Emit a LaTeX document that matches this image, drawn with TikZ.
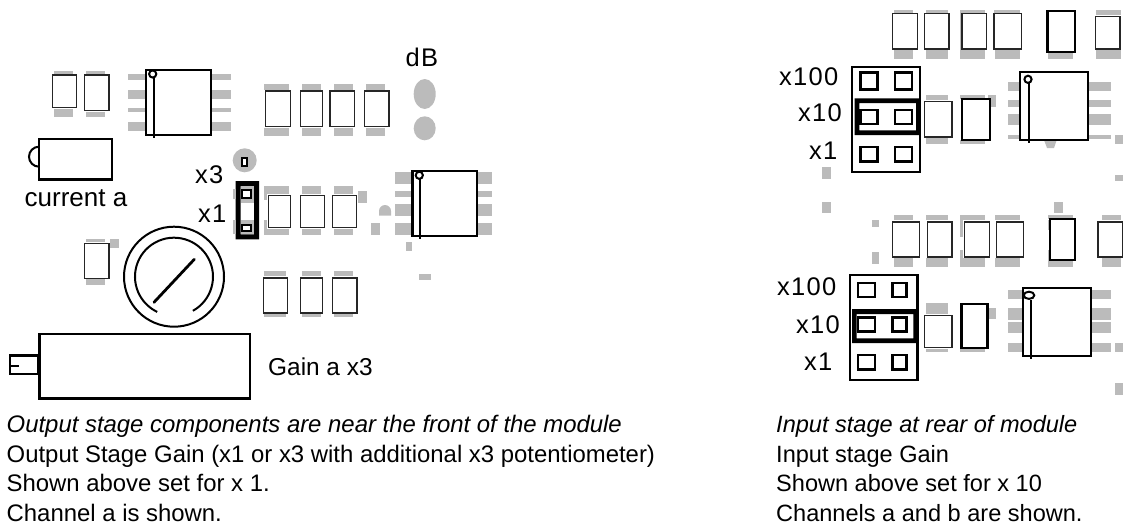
\documentclass[tikz,border=0pt]{standalone}
\usepackage{fontspec}
\setmainfont{Liberation Sans}
\newfontfamily\spacedfont[LetterSpace=5]{Liberation Sans}
\definecolor{padgray}{HTML}{BBBBBB}
\tikzset{
  pad/.style={fill=padgray,draw=none},
  capthin/.style={draw=black!85,fill=white,line width=1.1pt},
  capthick/.style={draw=black,fill=white,line width=2.4pt},
  icbody/.style={draw=black,fill=white,line width=2.4pt},
  pinbox/.style={draw=black,fill=white,line width=2.4pt},
  frame/.style={draw=black,line width=2.4pt},
  heavy/.style={fill=black,draw=none},
  wire/.style={draw=black,line width=2pt},
  label/.style={anchor=base west,inner sep=0pt},
  xlabel/.style={label,font=\spacedfont\fontsize{25.5}{28}\selectfont},
  wlabel/.style={label,font=\fontsize{24.4}{28}\selectfont},
  bodyl/.style={anchor=base west,inner sep=0pt,font=\fontsize{23.9}{28}\selectfont},
  bodyr/.style={anchor=base west,inner sep=0pt,font=\fontsize{23.55}{28}\selectfont},
}
\newcommand\gp[4]{\path[pad] (#1,#2) rectangle (#3,#4);}
\newcommand\cb[4]{\path[capthin] (#1,#2) rectangle (#3,#4);}
\newcommand\ct[4]{\path[capthick] (#1,#2) rectangle (#3,#4);}
\newcommand\pb[4]{\path[pinbox] (#1,#2) rectangle (#3,#4);}
\begin{document}
\begin{tikzpicture}[x=1pt,y=-1pt]
\useasboundingbox (0,0) rectangle (1123,528);
% ---------- left: small caps
\gp{54}{71}{73}{74}\gp{54}{109}{73}{117}\gp{86}{71}{105}{74}\gp{86}{112}{105}{117}
\cb{52.3}{75}{76.7}{107.7}\cb{84.3}{75}{109}{110.3}
% IC1
\gp{128}{74}{231}{80}\gp{128}{90}{231}{98.7}\gp{128}{108}{231}{112}\gp{128}{122}{231}{130.7}
\path[icbody] (145.7,69.7) rectangle (210.7,134.7);
\draw[wire] (153.7,76) -- (153.7,137.7);
\draw[black,fill=white,line width=2pt] (152.7,74) circle (3.6);
% current a
\draw[black,line width=2pt] (39,146.7) arc[start angle=90,end angle=270,radius=10pt];
\path[icbody] (39,139) rectangle (111.7,179.3);
% row of 4 caps
\gp{264}{84}{289}{90}\gp{302}{84}{321}{90}\gp{334}{84}{353}{90}\gp{366}{84}{385}{90}
\gp{264}{128}{289}{136}\gp{302}{128}{321}{136}\gp{334}{128}{353}{136}\gp{366}{128}{385}{136}
\cb{265.7}{91}{290.7}{126.3}\cb{300.7}{91}{322.7}{126.3}\cb{330}{91}{354.7}{126.3}\cb{364.7}{91}{389}{126.3}
% dB pads
\path[pad] (424.7,94) ellipse [x radius=11pt,y radius=15pt];
\path[pad] (424.7,128.3) ellipse [x radius=11pt,y radius=12pt];
% trimmer pad
\path[pad] (244.7,160.3) circle (12);
\path[draw=black,fill=white,line width=2pt] (242,157.7) rectangle (247.3,166);
% jumper
\path[heavy,even odd rule] (235.7,181) rectangle (259,239.3) (240.7,186) rectangle (254,234.3);
\gp{240.7}{186}{254}{203}\gp{240.7}{220}{254}{234.3}
\gp{233}{189}{236}{199}\gp{233}{220}{236}{234}
\pb{242}{190}{250.7}{198}\pb{242}{225}{250.7}{231}
% row of 3 caps
\gp{264}{186}{289}{194}\gp{302}{186}{321}{194}\gp{334}{186}{353}{194}
\gp{264}{229}{289}{235}\gp{302}{229}{321}{235}\gp{334}{229}{353}{235}
\gp{264}{194}{267}{200}\gp{264}{220}{267}{229}
\cb{268.3}{195.3}{290.7}{227.7}\cb{300.7}{195.3}{324.7}{227.7}\cb{332.7}{195.3}{356.7}{227.7}
\gp{358}{191}{367}{202.7}
\path[pad] (379,215.7) -- (379,211) arc[start angle=180,end angle=0,radius=6pt] -- (391,215.7) -- cycle;
\gp{371}{223}{379.7}{234.7}\gp{406}{242}{412}{250.7}\gp{419}{274}{431}{280}
% IC2
\gp{395}{172}{492}{184}\gp{395}{191}{492}{197}\gp{395}{204}{492}{216}\gp{395}{223}{492}{235}
\path[icbody] (412.3,171) rectangle (477,235.7);
\draw[wire] (420.3,177) -- (420.3,239.3);
\draw[black,fill=white,line width=2pt] (419.3,175.3) circle (3.6);
% row of 3 caps lower
\gp{264}{271}{286}{276}\gp{302}{271}{321}{276}\gp{334}{271}{353}{276}
\gp{264}{314}{286}{317}\gp{302}{314}{321}{317}\gp{334}{314}{353}{317}
\cb{263.3}{278}{287.7}{313}\cb{300.7}{278}{322.7}{313}\cb{332.3}{278}{357}{313}
% cap by pot
\gp{86}{239.3}{105}{241.7}\gp{110}{239.3}{119}{248}\gp{86}{279.3}{105}{284.7}
\cb{84.7}{243.3}{109}{278.3}
% pot
\draw[black,line width=2pt] (174,276.7) circle (50);
\draw[black,line width=2pt] (192.9,310.8) arc[start angle=-61,end angle=244.5,radius=39pt];
\draw[black,line width=2.8pt,line cap=round] (154,302.3) -- (194.3,259.3);
% big box and connector
\path[icbody] (39.3,334) rectangle (250,398.5);
\path[frame,fill=white] (10,355.5) rectangle (38,374);
\draw[black,line width=2pt] (10,365.7) -- (19,365.7);
% ---------- right upper
\gp{894}{10}{913}{13}\gp{926}{10}{948}{13}\gp{960}{10}{985}{13}\gp{994}{10}{1020}{13}\gp{1096}{10}{1121}{15}
\gp{894}{50}{913}{59}\gp{926}{50}{948}{59}\gp{960}{50}{985}{59}\gp{995}{50}{1020}{59}\gp{1048}{52}{1073}{59}\gp{1096}{50}{1121}{59}
\gp{960}{13}{963}{50}
\cb{892.3}{13.7}{917.3}{49}\cb{924.3}{13.7}{949}{49}\cb{962}{13.7}{986.7}{49}\cb{994}{13.7}{1021.3}{49}
\ct{1047.3}{11}{1074.7}{51.7}\cb{1095.7}{16.3}{1120}{49}
% jumper block
\path[frame] (852,66.7) rectangle (920,172);
\path[heavy,even odd rule] (854.7,98.3) rectangle (919,135) (859.3,103) rectangle (916,130.3);
\pb{860.5}{72.5}{877.5}{89.5}\pb{895.2}{72.5}{912.2}{89.5}
\pb{860.5}{110}{877.5}{124}\pb{895.2}{110}{912.2}{124}
\pb{860.5}{147}{877.5}{161.5}\pb{895.2}{147}{912.2}{161.5}
\gp{926}{95}{948}{99.7}\gp{926}{138}{948}{144}
\cb{924.3}{101.7}{952}{137}
\gp{960}{95}{985}{99}\gp{988}{95}{996}{107}\gp{960}{140}{985}{144}
\ct{961.7}{99}{989.7}{140}
% IC3
\gp{1008}{82}{1111}{91}\gp{1008}{100}{1111}{107}\gp{1008}{114}{1111}{125}\gp{1008}{135}{1111}{139}
\path[pad] (1044,140) -- (1056.7,140) -- (1054,148) -- (1047,148) -- cycle;
\path[icbody] (1020,72) rectangle (1088,140);
\draw[wire] (1029,82) -- (1029,143.3);
\draw[black,fill=white,line width=2pt] (1028,79.3) circle (3.6);
\gp{1115}{135}{1123}{144}\gp{1115}{175}{1123}{181}\gp{822}{167}{831}{179}
\gp{822}{202}{831}{213}\gp{1054}{202}{1063}{213}
% ---------- right lower
\gp{872}{220}{879}{227}\gp{872}{252}{879}{264}
\gp{894}{215}{913}{220}\gp{926}{215}{948}{220}\gp{960}{215}{985}{220}\gp{995}{215}{1020}{220}\gp{1048}{215}{1073}{219}\gp{1102}{215}{1121}{220}
\gp{894}{258}{913}{267}\gp{926}{258}{948}{267}\gp{960}{258}{985}{267}\gp{995}{258}{1020}{267}\gp{1048}{258}{1073}{267}\gp{1102}{258}{1121}{267}
\gp{960}{220}{963}{237}\gp{960}{250}{963}{258}\gp{1048}{250}{1050}{258}\gp{1048}{220}{1050}{230}
\cb{892.3}{222}{919.7}{257}\cb{927.3}{222}{952}{257}\cb{964.3}{222}{989.3}{257}\cb{996.7}{222}{1023.7}{257}
\ct{1050}{219}{1074.7}{260}\cb{1098}{222}{1122.4}{257}
\path[frame] (850,275) rectangle (917.3,380);
\path[heavy,even odd rule] (852,309) rectangle (917,343) (856.7,314) rectangle (913.3,338.3);
\pb{858.2}{283}{875}{297}\pb{892.5}{283}{906.5}{297}
\pb{858.2}{317.5}{875}{331.5}\pb{892.5}{317.5}{906.5}{331.5}
\pb{858.2}{355}{875}{369.5}\pb{892.5}{355}{906.5}{369.5}
\gp{926}{303}{948}{314}\gp{926}{349}{948}{352}
\cb{924.3}{315.3}{952}{347.7}
\gp{960}{303}{985}{305}\gp{960}{348}{985}{352}\gp{988}{308}{996}{319}
\ct{961.3}{304}{987.3}{348}
% IC4
\gp{1008}{290}{1111}{299}\gp{1008}{308}{1111}{320}\gp{1008}{322}{1111}{333}\gp{1008}{343}{1111}{352}
\path[icbody] (1023,288) rectangle (1091,356);
\draw[wire] (1031.3,300) -- (1031.3,359.3);
\draw[black,fill=white,line width=2pt] (1029,295.3) ellipse [x radius=5.3pt,y radius=3.6pt];
\gp{1115}{343}{1123}{352}\gp{1115}{383}{1123}{395}
% ---------- labels
\node[xlabel] (tdb) at (405.5,66) {dB};
\node[label,font=\fontsize{26}{30}\selectfont] (tcur) at (24.5,206.7) {current a};
\node[xlabel] (tx3) at (195,183) {x3};
\node[xlabel] (tx1) at (198,222.7) {x1};
\node[wlabel] (tgain) at (268,375.7) {Gain a x3};
\node[xlabel] (ta100) at (779,85) {x100};
\node[xlabel] (ta10) at (798,121.7) {x10};
\node[xlabel] (ta1) at (809,159) {x1};
\node[xlabel] (tb100) at (777,295) {x100};
\node[xlabel] (tb10) at (796,333.3) {x10};
\node[xlabel] (tb1) at (804,370) {x1};
\node[bodyl] (l1) at (6.5,432.5) {\itshape Output stage components are near the front of the module};
\node[bodyl] (l2) at (6.5,462) {Output Stage Gain (x1 or x3 with additional x3 potentiometer)};
\node[bodyl] (l3) at (6.5,491.5) {Shown above set for x 1.};
\node[bodyl] (l4) at (6.5,521) {Channel a is shown.};
\node[bodyr] (r1) at (776,432.5) {\itshape Input stage at rear of module};
\node[bodyr] (r2) at (776,462) {Input stage Gain};
\node[bodyr] (r3) at (776,491.5) {Shown above set for x 10};
\node[bodyr] (r4) at (776,521) {Channels a and b are shown.};
\end{tikzpicture}
\end{document}
